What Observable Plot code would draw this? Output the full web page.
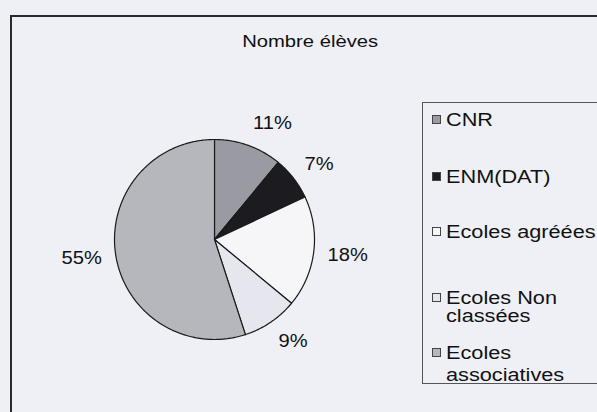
<!DOCTYPE html>
<html><head><meta charset="utf-8">
<script src="https://cdn.jsdelivr.net/npm/d3@7"></script>
<script src="https://cdn.jsdelivr.net/npm/@observablehq/plot@0.6"></script>
<style>
body{margin:0;background:#eef0f6;font-family:"Liberation Sans",Arial,sans-serif;color:#111;}
#wrap{position:relative;width:597px;height:412px;overflow:hidden;background:#eef0f6;}
#frame{position:absolute;left:10px;top:15px;width:640px;height:440px;border:2px solid #2a2a2a;box-sizing:border-box;}
#title{position:absolute;left:160px;width:300px;top:32px;text-align:center;font-size:17px;line-height:20px;}
#title span{display:inline-block;transform:scaleX(1.19);}
#legend{position:absolute;left:422px;top:102px;width:200px;height:282px;border:1px solid #555;box-sizing:border-box;}
.item{position:absolute;left:446px;font-size:17.5px;white-space:nowrap;}
.item span{display:inline-block;white-space:pre;transform:scaleX(1.24);transform-origin:left center;}
.mk{position:absolute;left:432px;width:9px;height:9px;border:1px solid #444;box-sizing:border-box;}
#pie{position:absolute;left:0;top:0;}
</style></head>
<body><div id="wrap"><div id="frame"></div><div id="title"><span>Nombre élèves</span></div><div id="legend"></div><div id="pie"></div></div>
<script>
const categories = ["CNR", "ENM(DAT)", "Ecoles agréées", "Ecoles Non classées", "Ecoles associatives"];
const legendLines = [["CNR"], ["ENM(DAT)"], ["Ecoles agréées"], ["Ecoles Non", "classées"], ["Ecoles", "associatives"]];
const values = [11, 7, 18, 9, 55];
const labels = ["11%", "7%", "18%", "9%", "55%"];
const colors = ["#9a9aa2", "#1c1c20", "#f6f6f9", "#e6e6ee", "#b6b6bd"];

const W = 597, H = 412, cx = 214, cy = 239, R = 100;
const arcs = d3.pie().sort(null).value(d => d)(values);
const pts = [];
arcs.forEach((a, i) => {
  const name = categories[i];
  pts.push({name, x: 0, y: 0});
  const n = Math.max(2, Math.ceil((a.endAngle - a.startAngle) / 0.01));
  for (let k = 0; k <= n; k++) {
    const t = a.startAngle + (a.endAngle - a.startAngle) * k / n;
    pts.push({name, x: Math.sin(t), y: Math.cos(t)});
  }
  pts.push({name, x: 0, y: 0});
});
const k = 0.14, hh = 0.09;
const labelData = arcs.map((a, i) => {
  const m = (a.startAngle + a.endAngle) / 2;
  return {text: labels[i], right: Math.sin(m) >= 0, x: (1 + k) * Math.sin(m), y: (1 + k) * Math.cos(m) + hh * Math.cos(m)};
});

const textOpts = {x: "x", y: "y", text: "text", fontSize: 17.5, fill: "#111", fontFamily: "Liberation Sans, Arial, sans-serif"};
const plot = Plot.plot({
  width: W, height: H, margin: 0,
  x: {domain: [-cx / R, (W - cx) / R], axis: null},
  y: {domain: [-(H - cy) / R, cy / R], axis: null},
  color: {domain: categories, range: colors},
  style: {background: "transparent", overflow: "visible"},
  marks: [
    Plot.line(pts, {x: "x", y: "y", z: "name", fill: "name", stroke: "#1a1a1a", strokeWidth: 1.2, curve: "linear", strokeLinejoin: "round"}),
    Plot.text(labelData.filter(d => d.right), {...textOpts, textAnchor: "start"}),
    Plot.text(labelData.filter(d => !d.right), {...textOpts, textAnchor: "end"})
  ]
});
document.getElementById("pie").appendChild(plot);
plot.querySelectorAll("text").forEach(t => {
  const len = t.getComputedTextLength();
  t.setAttribute("textLength", len * 1.15);
  t.setAttribute("lengthAdjust", "spacingAndGlyphs");
});

const tops = [110, 167, 222, 289, 342];
const lineHeights = [20, 20, 20, 18, 22];
const wrap = document.getElementById("wrap");
legendLines.forEach((lines, i) => {
  const mk = document.createElement("div");
  mk.className = "mk";
  mk.style.top = (tops[i] + 5 + (lineHeights[i] - 20) / 2) + "px";
  mk.style.background = colors[i];
  wrap.appendChild(mk);
  const d = document.createElement("div");
  d.className = "item";
  d.style.top = tops[i] + "px";
  d.style.lineHeight = lineHeights[i] + "px";
  const s = document.createElement("span");
  s.textContent = lines.join("\n");
  d.appendChild(s);
  wrap.appendChild(d);
});
</script></body></html>
